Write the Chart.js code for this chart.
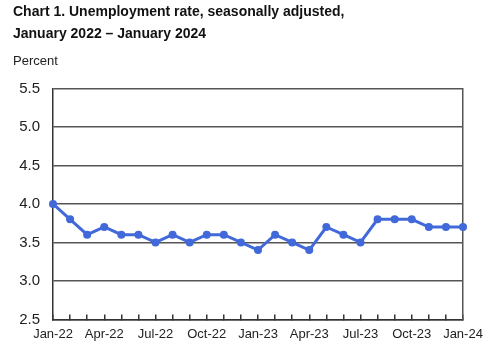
<!DOCTYPE html>
<html>
<head>
<meta charset="utf-8">
<script src="https://cdn.jsdelivr.net/npm/chart.js@4"></script>
<style>
  html, body { margin: 0; padding: 0; background: #fff; }
  #wrap { width: 500px; height: 354px; }
</style>
</head>
<body>
<div id="wrap"><canvas id="g-desemprego"></canvas></div>
<script>
// months Jan-22 .. Jan-24
var meses = ['Jan-22','Feb-22','Mar-22','Apr-22','May-22','Jun-22','Jul-22','Aug-22','Sep-22','Oct-22','Nov-22','Dec-22',
             'Jan-23','Feb-23','Mar-23','Apr-23','May-23','Jun-23','Jul-23','Aug-23','Sep-23','Oct-23','Nov-23','Dec-23',
             'Jan-24'];
var taxa = [4.0, 3.8, 3.6, 3.7, 3.6, 3.6, 3.5, 3.6, 3.5, 3.6, 3.6, 3.5,
            3.4, 3.6, 3.5, 3.4, 3.7, 3.6, 3.5, 3.8, 3.8, 3.8, 3.7, 3.7,
            3.7];
var yMin = 2.5, yMax = 5.5, yStep = 0.5;

Chart.defaults.font.family = '"Liberation Sans", Arial, sans-serif';
Chart.defaults.color = '#222';

var ctx = document.getElementById('g-desemprego');

var grafico = new Chart(ctx, {
    type: 'line',
    data: {
        labels: meses,
        datasets: [
            {
                label: 'Unemployment rate',
                data: taxa,
                borderWidth: 3,
                borderColor: '#4169d9',
                backgroundColor: '#4169d9',
                pointRadius: 4,
                pointHoverRadius: 4,
                pointBorderWidth: 0,
                tension: 0
            }
        ]
    },
    options: {
        responsive: true,
        maintainAspectRatio: false,
        animation: false,
        layout: { padding: { left: 13, right: 37, top: 0, bottom: 0 } },
        plugins: {
            legend: { display: false },
            tooltip: { enabled: false },
            title: {
                display: true,
                align: 'start',
                text: ['Chart 1. Unemployment rate, seasonally adjusted,', 'January 2022 \u2013 January 2024'],
                font: { size: 14, weight: 'bold', lineHeight: 1.6 },
                color: '#111',
                padding: { top: 1, bottom: 8 }
            },
            subtitle: {
                display: true,
                align: 'start',
                text: 'Percent',
                font: { size: 13 },
                color: '#222',
                padding: { top: 0, bottom: 19 }
            }
        },
        scales: {
            x: {
                offset: false,
                grid: { drawOnChartArea: false, drawTicks: true, tickLength: -5, color: '#333', lineWidth: 1.5 },
                border: { color: '#333', width: 1.5 },
                ticks: {
                    autoSkip: false,
                    maxRotation: 0,
                    padding: 12,
                    font: { size: 13 },
                    color: '#222',
                    callback: function (v, i) { return i % 3 === 0 ? meses[i] : ''; }
                }
            },
            y: {
                min: yMin,
                max: yMax,
                afterFit: function (s) { s.width = 40; },
                grid: { color: '#555', lineWidth: 1.5, drawTicks: false },
                border: { color: '#333', width: 1.5 },
                ticks: {
                    stepSize: yStep,
                    padding: 13,
                    font: { size: 15 },
                    color: '#222',
                    callback: function (v) { return v.toFixed(1); }
                }
            },
            y2: {
                position: 'right',
                min: yMin,
                max: yMax,
                afterFit: function (s) { s.width = 0; },
                grid: { drawOnChartArea: false, drawTicks: false },
                border: { color: '#555', width: 1.5 },
                ticks: { display: false }
            }
        }
    }
});
</script>
</body>
</html>
